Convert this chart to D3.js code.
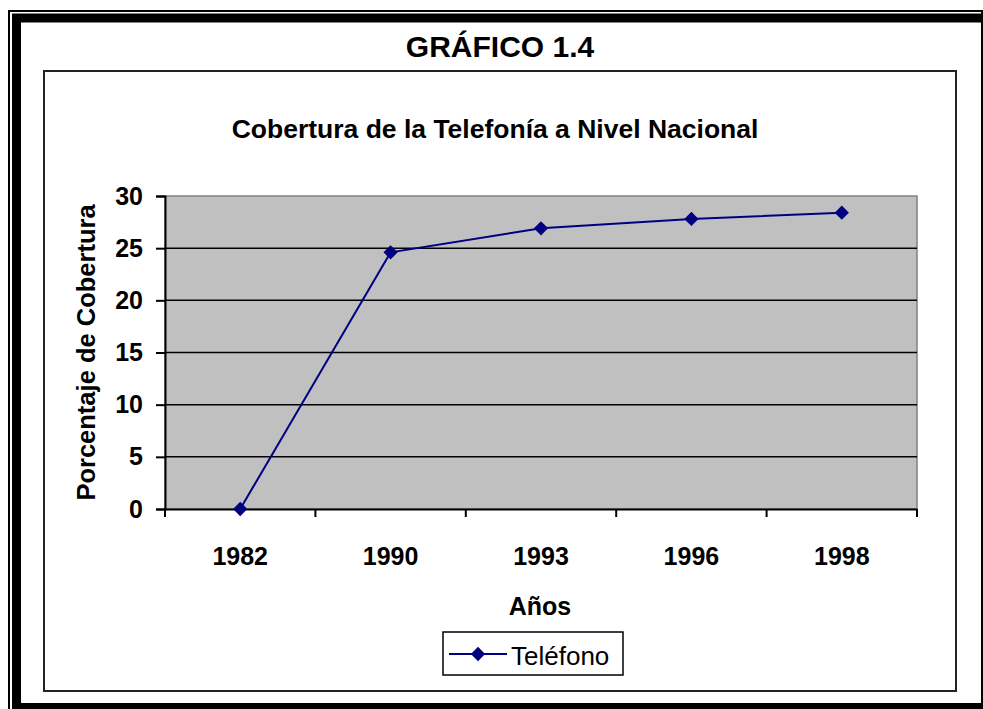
<!DOCTYPE html>
<html>
<head>
<meta charset="utf-8">
<script src="https://cdn.jsdelivr.net/npm/d3@7"></script>
<style>
  body { margin: 0; background: #fff; }
  text { font-family: "Liberation Sans", Arial, sans-serif; }
</style>
</head>
<body>
<div id="chart"></div>
<script>
// data
const years = ["1982", "1990", "1993", "1996", "1998"];
const coverage = [0, 24.6, 26.9, 27.8, 28.4];
const yTicks = [0, 5, 10, 15, 20, 25, 30];
const seriesName = "Teléfono";

const W = 983, H = 709;
const plot = { left: 165, right: 917, top: 196, bottom: 509 };
const FONT = "'Liberation Sans', Arial, sans-serif";

const svg = d3.select("#chart").append("svg")
    .attr("width", W)
    .attr("height", H);

// page frame (thin + thick double border, cut off at right/bottom)
svg.append("rect").attr("x", 9).attr("y", 11).attr("width", 990).attr("height", 720)
    .attr("fill", "none").attr("stroke", "#000").attr("stroke-width", 2);
svg.append("rect").attr("x", 16.5).attr("y", 18).attr("width", 990).attr("height", 689.5)
    .attr("fill", "none").attr("stroke", "#000").attr("stroke-width", 9);
svg.append("rect").attr("x", 981).attr("y", 10).attr("width", 2).attr("height", 699).attr("fill", "#000");

svg.append("text")
    .attr("x", 500).attr("y", 57)
    .attr("text-anchor", "middle")
    .attr("font-size", 30).attr("font-weight", "bold")
    .text("GRÁFICO 1.4");

// chart box
svg.append("rect").attr("x", 44).attr("y", 71).attr("width", 912).attr("height", 620)
    .attr("fill", "#fff").attr("stroke", "#222").attr("stroke-width", 2);

svg.append("text")
    .attr("x", 495).attr("y", 138)
    .attr("text-anchor", "middle")
    .attr("font-size", 26.5).attr("font-weight", "bold")
    .text("Cobertura de la Telefonía a Nivel Nacional");

// scales
const x = d3.scaleBand().domain(years).range([plot.left, plot.right]).padding(0);
const y = d3.scaleLinear().domain([0, 30]).range([plot.bottom, plot.top]);

// plot area
svg.append("rect")
    .attr("x", plot.left).attr("y", y(30))
    .attr("width", plot.right - plot.left).attr("height", y(0) - y(30))
    .attr("fill", "#c0c0c0").attr("stroke", "#808080").attr("stroke-width", 1.5);

// gridlines
svg.append("g").selectAll("line")
    .data(yTicks.filter(d => d > 0 && d < 30))
    .join("line")
    .attr("x1", plot.left).attr("x2", plot.right)
    .attr("y1", d => y(d)).attr("y2", d => y(d))
    .attr("stroke", "#000").attr("stroke-width", 1.5);

// y axis
const yAxis = svg.append("g")
    .attr("transform", `translate(${plot.left},0)`)
    .call(d3.axisLeft(y).tickValues(yTicks).tickSize(9).tickPadding(13).tickFormat(d3.format("d")));
yAxis.selectAll("line, path").attr("stroke", "#000").attr("stroke-width", 2);
yAxis.selectAll("text").attr("font-size", 25).attr("font-weight", "bold").attr("fill", "#000")
    .attr("font-family", FONT);

// x axis (labels at band centres, ticks at band edges)
const xAxis = svg.append("g")
    .attr("transform", `translate(0,${plot.bottom})`)
    .call(d3.axisBottom(x).tickSize(0).tickSizeOuter(0).tickPadding(38));
xAxis.select("path").attr("stroke", "#000").attr("stroke-width", 2);
xAxis.selectAll("text").attr("font-size", 25).attr("font-weight", "bold").attr("fill", "#000")
    .attr("font-family", FONT);

const edges = years.map(d => x(d)).concat([x(years[years.length - 1]) + x.bandwidth()]);
svg.append("g").selectAll("line")
    .data(edges)
    .join("line")
    .attr("x1", d => d).attr("x2", d => d)
    .attr("y1", plot.bottom).attr("y2", plot.bottom + 8)
    .attr("stroke", "#000").attr("stroke-width", 2);

// axis titles
svg.append("text")
    .attr("x", 540).attr("y", 615)
    .attr("text-anchor", "middle")
    .attr("font-size", 25).attr("font-weight", "bold")
    .text("Años");

svg.append("text")
    .attr("transform", `translate(95,${(plot.top + plot.bottom) / 2}) rotate(-90)`)
    .attr("text-anchor", "middle")
    .attr("font-size", 25.5).attr("font-weight", "bold")
    .text("Porcentaje de Cobertura");

// series
const navy = "#000080";
const line = d3.line()
    .x((d, i) => x(years[i]) + x.bandwidth() / 2)
    .y(d => y(d));

svg.append("path")
    .datum(coverage)
    .attr("d", line)
    .attr("fill", "none")
    .attr("stroke", navy)
    .attr("stroke-width", 2);

const diamond = d3.symbol().type(d3.symbolDiamond2).size(130);
svg.append("g").selectAll("path")
    .data(coverage)
    .join("path")
    .attr("transform", (d, i) => `translate(${x(years[i]) + x.bandwidth() / 2},${y(d)})`)
    .attr("d", diamond)
    .attr("fill", navy);

// legend
const lg = svg.append("g").attr("transform", "translate(443,632)");
lg.append("rect").attr("width", 180).attr("height", 43)
    .attr("fill", "#fff").attr("stroke", "#000").attr("stroke-width", 1.5);
lg.append("line").attr("x1", 6).attr("x2", 64).attr("y1", 22).attr("y2", 22)
    .attr("stroke", navy).attr("stroke-width", 2);
lg.append("path").attr("transform", "translate(35,22)")
    .attr("d", diamond).attr("fill", navy);
lg.append("text").attr("x", 68).attr("y", 33)
    .attr("font-size", 26)
    .text(seriesName);
</script>
</body>
</html>
